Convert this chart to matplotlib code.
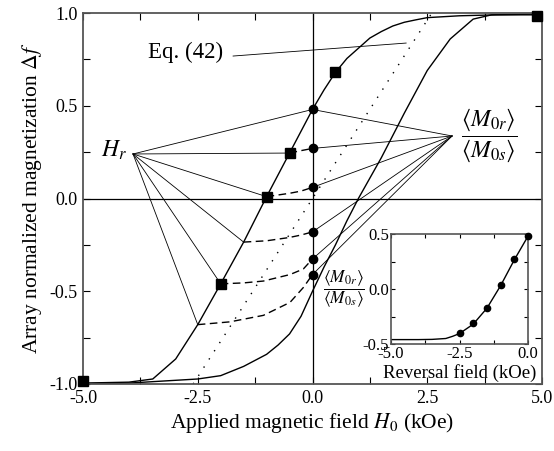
import numpy as np
import matplotlib
matplotlib.use("Agg")
import matplotlib.pyplot as plt
from matplotlib.ticker import MultipleLocator, FormatStrFormatter

plt.rcParams['font.family'] = 'serif'
plt.rcParams['font.serif'] = ['Liberation Serif', 'DejaVu Serif']
plt.rcParams['mathtext.fontset'] = 'stix'
plt.rcParams['axes.unicode_minus'] = False

# descending branch (field swept down from +5 kOe)
desc_h = [-5.0, -4.0, -3.48, -2.98, -2.5, -2.0, -1.5, -1.0, -0.5, 0.0,
          0.25, 0.5, 0.75, 1.0, 1.25, 1.5, 1.75, 2.0, 2.25, 2.5, 3.2, 4.0, 5.0]
desc_m = [-0.995, -0.99, -0.973, -0.865, -0.68, -0.46, -0.235, 0.01, 0.245, 0.48,
          0.585, 0.68, 0.755, 0.81, 0.865, 0.90, 0.93, 0.95, 0.963, 0.975, 0.985, 0.99, 0.99]

# ascending branch
asc_h = [-5.0, -4.0, -2.5, -2.0, -1.5, -1.0, -0.75, -0.5, -0.25, 0.0, 0.25, 0.5,
         0.75, 1.0, 1.5, 2.0, 2.5, 3.0, 3.5, 3.9, 5.0]
asc_m = [-0.998, -0.995, -0.973, -0.955, -0.905, -0.84, -0.79, -0.73, -0.635, -0.50, -0.37, -0.25,
         -0.12, 0.0, 0.22, 0.46, 0.69, 0.86, 0.967, 0.99, 0.995]

# Eq. (42) dotted line
eq_h = [-2.6, 2.6]
eq_m = [-1.0, 1.0]

# reversal fields and remanence values
hr = [0.0, -0.5, -1.0, -1.5, -2.0, -2.5]
m_at_hr = [0.48, 0.245, 0.01, -0.235, -0.46, -0.68]
m0r = [0.48, 0.27, 0.06, -0.18, -0.326, -0.41]

# recoil curves (dashed) from H_r back to zero field
rec_h = [[-0.5, -0.25, 0.0],
         [-1.0, -0.5, -0.25, 0.0],
         [-1.5, -1.0, -0.5, -0.25, 0.0],
         [-2.0, -1.5, -1.07, -0.49, -0.2, 0.0],
         [-2.5, -1.8, -1.07, -0.49, -0.2, 0.0]]
rec_m = [[0.245, 0.258, 0.27],
         [0.01, 0.028, 0.04, 0.06],
         [-0.235, -0.228, -0.21, -0.197, -0.18],
         [-0.46, -0.455, -0.445, -0.41, -0.38, -0.326],
         [-0.68, -0.665, -0.63, -0.56, -0.48, -0.41]]

# square markers on the descending branch
sq_h = [-5.0, -2.0, -1.0, -0.5, 0.5, 4.9]
sq_m = [-0.984, -0.46, 0.01, 0.245, 0.68, 0.984]

# inset: remanence vs reversal field
ins_h = [-5.0, -4.0, -3.5, -3.0, -2.75, -2.5, -2.0, -1.5, -1.0, -0.5, 0.0]
ins_m = [-0.46, -0.46, -0.458, -0.45, -0.43, -0.405, -0.32, -0.175, 0.03, 0.265, 0.48]
ins_pt_h = [-2.5, -2.0, -1.5, -1.0, -0.5, 0.0]
ins_pt_m = [-0.40, -0.31, -0.17, 0.036, 0.27, 0.48]

hr_label = (-3.91, 0.24)
m_label = (3.04, 0.337)

fig = plt.figure(figsize=(5.54, 4.51), dpi=100)
ax = fig.add_axes([83/554, 1-384/451, (542-83)/554, (384-13)/451])

lw = 1.0
ax.axhline(0, color='k', lw=0.9)
ax.axvline(0, color='k', lw=0.9)

# annotation lines
for h, m in zip(hr, m_at_hr):
    ax.plot([hr_label[0], h], [hr_label[1], m], color='k', lw=0.6)
for m in m0r:
    ax.plot([m_label[0], 0], [m_label[1], m], color='k', lw=0.6)
ax.plot([-1.73, 2.04], [0.768, 0.838], color='k', lw=0.6)

ax.plot(desc_h, desc_m, color='k', lw=lw)
ax.plot(asc_h, asc_m, color='k', lw=lw)
ax.plot(eq_h, eq_m, color='k', lw=lw, linestyle=(0, (1, 6)))
for h, m in zip(rec_h, rec_m):
    ax.plot(h, m, color='k', lw=lw, linestyle=(0, (5.5, 3.2)))

ax.plot(sq_h, sq_m, 's', color='k', ms=6.5, clip_on=False, zorder=5)
ax.plot([0]*len(m0r), m0r, 'o', color='k', ms=6, zorder=5)

ax.set_xlim(-5, 5)
ax.set_ylim(-1, 1)
ax.xaxis.set_major_locator(MultipleLocator(2.5))
ax.xaxis.set_minor_locator(MultipleLocator(1.25))
ax.yaxis.set_major_locator(MultipleLocator(0.5))
ax.yaxis.set_minor_locator(MultipleLocator(0.25))
ax.xaxis.set_major_formatter(FormatStrFormatter('%.1f'))
ax.yaxis.set_major_formatter(FormatStrFormatter('%.1f'))
ax.tick_params(which='both', direction='in', top=True, right=True, length=5, width=0.8,
               labelsize=13, pad=4)
for s in ax.spines.values():
    s.set_linewidth(1.3)
    s.set_color('#555555')

ax.set_xlabel(r'Applied magnetic field $H_0$ (kOe)', fontsize=15.5, labelpad=3)
ax.set_ylabel(r'Array normalized magnetization $\Delta f$', fontsize=15.5, labelpad=4)

ax.text(-3.58, 0.785, 'Eq. (42)', fontsize=16.5, ha='left', va='center')
ax.text(-4.05, 0.26, r'$H_r$', fontsize=17, ha='right', va='center')
ax.text(3.86, 0.34, r'$\dfrac{\langle M_{0r}\rangle}{\langle M_{0s}\rangle}$',
        fontsize=17, ha='center', va='center')

# inset
axi = fig.add_axes([391/554, 1-344/451, (528-391)/554, (344-234)/451])
axi.plot(ins_h, ins_m, color='k', lw=lw)
axi.plot(ins_pt_h, ins_pt_m, 'o', color='k', ms=4.5, clip_on=False, zorder=5)
axi.set_xlim(-5, 0)
axi.set_ylim(-0.5, 0.5)
axi.xaxis.set_major_locator(MultipleLocator(2.5))
axi.xaxis.set_minor_locator(MultipleLocator(1.25))
axi.yaxis.set_major_locator(MultipleLocator(0.5))
axi.yaxis.set_minor_locator(MultipleLocator(0.25))
axi.xaxis.set_major_formatter(FormatStrFormatter('%.1f'))
axi.yaxis.set_major_formatter(FormatStrFormatter('%.1f'))
axi.tick_params(which='both', direction='in', top=True, right=True, length=3, width=0.8,
                labelsize=12, pad=1.5)
for s in axi.spines.values():
    s.set_linewidth(1.2)
    s.set_color('#555555')
axi.set_xlabel('Reversal field (kOe)', fontsize=13.5, labelpad=1.5)
axi.text(-0.34, 0.5, r'$\dfrac{\langle M_{0r}\rangle}{\langle M_{0s}\rangle}$',
         fontsize=12.5, ha='center', va='center', transform=axi.transAxes)

fig.savefig('out.png', dpi=100)
